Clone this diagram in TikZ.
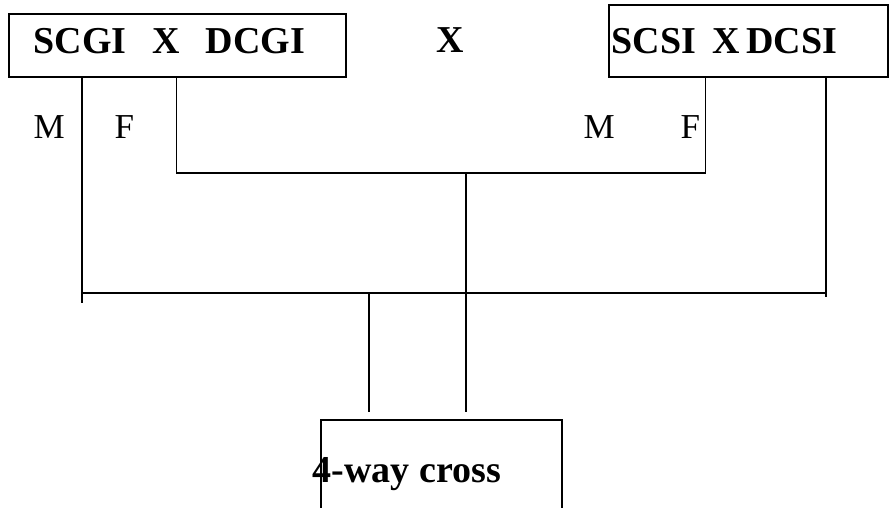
\documentclass[tikz,border=0pt]{standalone}
\usepackage{fontspec}
\setmainfont{Liberation Serif}
\usetikzlibrary{positioning}

\tikzset{
  box/.style={draw, rectangle, inner sep=0pt},
  title/.style={font=\bfseries\fontsize{38}{45}\selectfont, inner sep=0pt, anchor=base west},
  parent/.style={font=\fontsize{35}{42}\selectfont, inner sep=0pt, anchor=base west}
}

\begin{document}
\begin{tikzpicture}[x=1pt, y=-1pt, line width=1.3pt]
		\useasboundingbox (0,0) rectangle (889,508);

		% the three boxes
		\draw (177.5,45.5) node [box, minimum width=337pt, minimum height=63pt] (cgi) {};
		\draw (748.5,41) node [box, minimum width=279pt, minimum height=72pt] (csi) {};
		\draw (441.5,480) node [box, minimum width=241pt, minimum height=120pt] (cross) {};

		% texts
		\draw (33,54) node [title] (cgitext) {SCGI\hspace{26pt}X\hspace{26pt}DCGI};
		\draw (436,53) node [title] (times) {X};
		\draw (611,54) node [title] (csitext) {SCSI\hspace{16pt}X\hspace{7pt}DCSI};
		\draw (312,482) node [title] (crosstext) {4-way cross};

		\draw (33,139) node [parent] (m1) {M};
		\draw (114,139) node [parent] (f1) {F};
		\draw (583,139) node [parent] (m2) {M};
		\draw (680,139) node [parent] (f2) {F};

		% junctions
		\coordinate (fbar) at (466,173);
		\coordinate (mbar) at (369,293);
		\coordinate (mleft) at (82,303);
		\coordinate (mright) at (826,297);

		% females of both crosses
		\draw ([xshift=168pt]cgi.south west) |- (fbar) -| ([xshift=97pt]csi.south west);
		\draw (fbar) -- ([yshift=7pt]cross.north -| fbar);

		% males of both crosses
		\draw (mleft |- cgi.south) -- (mleft);
		\draw (mright |- csi.south) -- (mright);
		\draw (mleft |- mbar) -- (mright |- mbar);
		\draw (mbar) -- ([yshift=7pt]cross.north -| mbar);
\end{tikzpicture}
\end{document}
